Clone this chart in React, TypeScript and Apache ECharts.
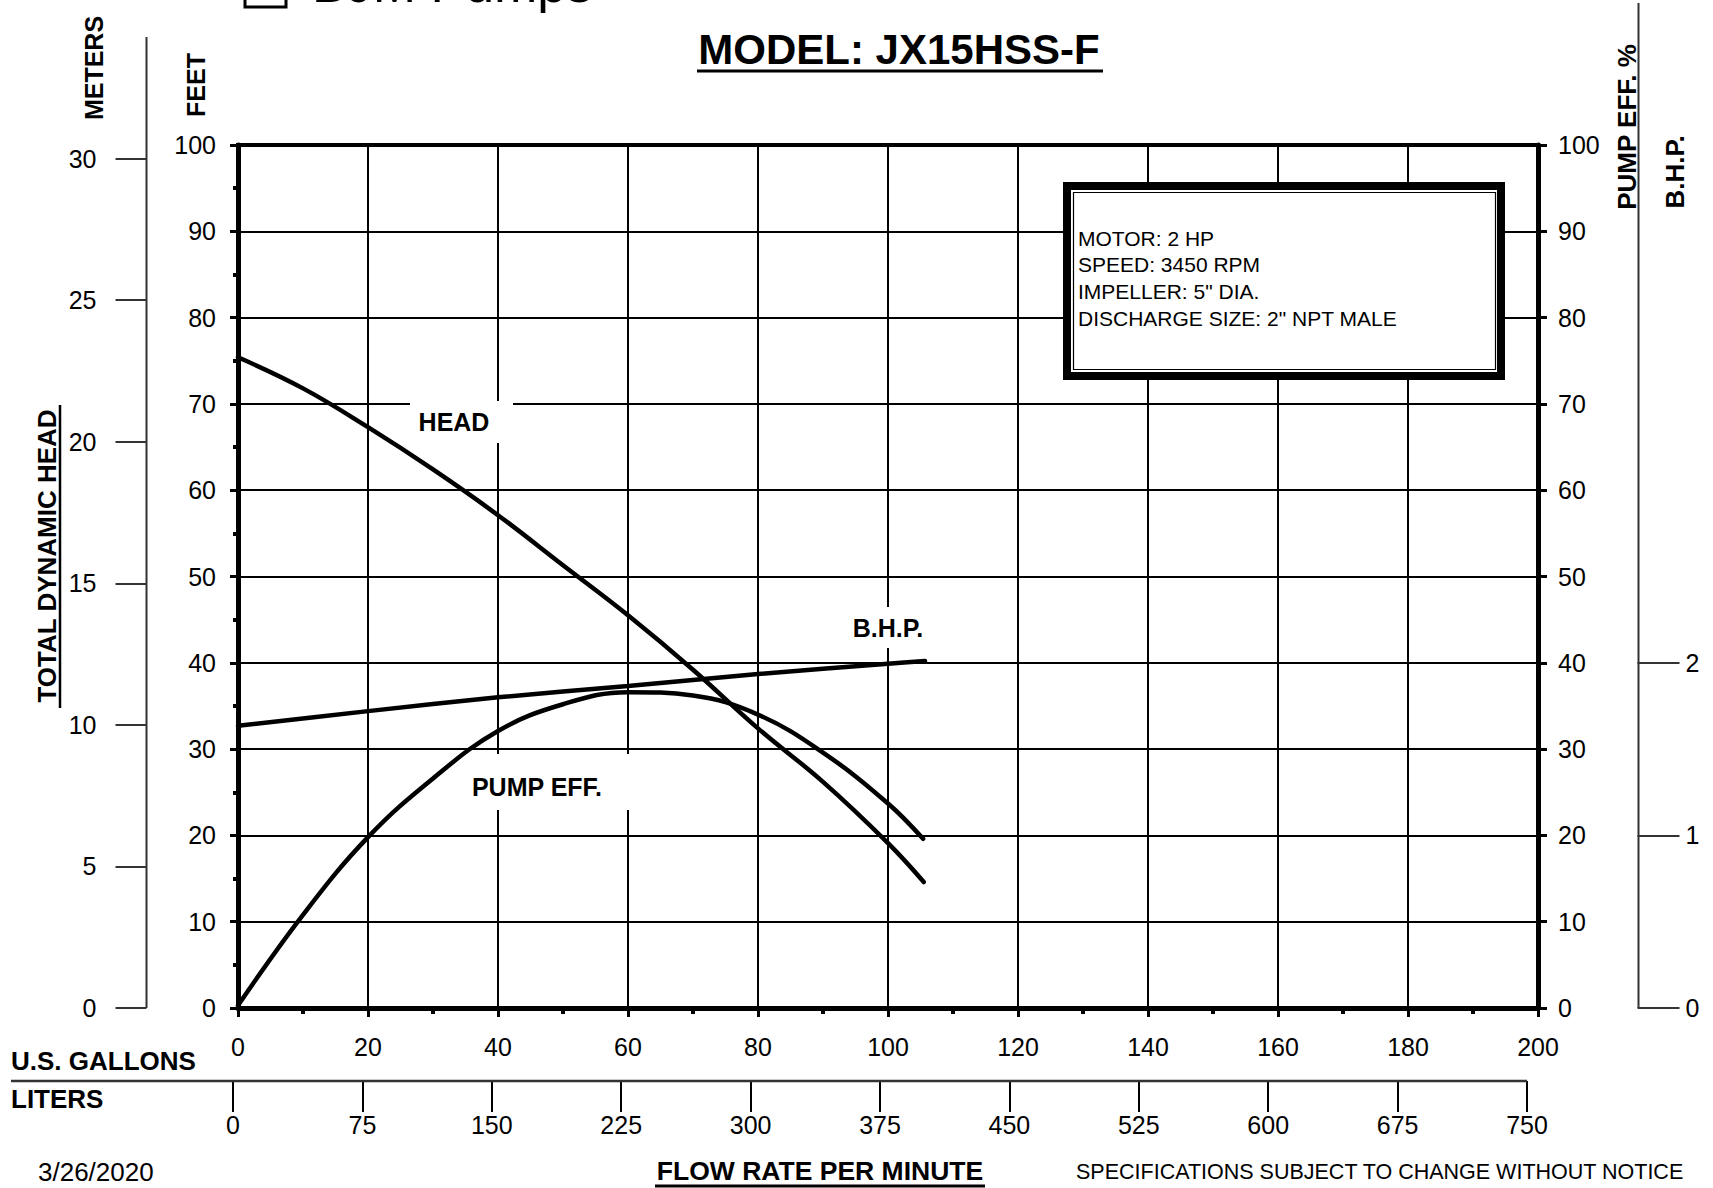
import React, { useEffect, useRef } from 'react';
import * as echarts from 'echarts';

// ---- data ----
const headFlow = [0, 10, 20, 30, 40, 50, 60, 70, 80, 90, 100, 105.5];
const headFeet = [75.4, 71.8, 67.3, 62.4, 57.1, 51.3, 45.5, 39.2, 32.4, 26.2, 19.1, 14.6];

const effFlow = [0, 10, 20, 30, 40, 50, 60, 70, 80, 90, 100, 105.4];
const effPct = [0.3, 10.8, 19.8, 26.6, 32.1, 35.2, 36.6, 36.2, 34.0, 29.6, 23.7, 19.6];

const bhpFlow = [0, 20, 40, 60, 80, 100, 105.7];
const bhpValue = [1.635, 1.72, 1.8, 1.865, 1.935, 1.995, 2.01];

const infoLines = ['MOTOR: 2 HP', 'SPEED: 3450 RPM', 'IMPELLER: 5" DIA.', 'DISCHARGE SIZE: 2" NPT MALE'];

const FONT = '"Liberation Sans", Arial, Helvetica, sans-serif';
const FT_PER_M = 3.28084;
const FT_PER_BHP = 20; // B.H.P. scale: 1 BHP spans 20 ft on the chart

// plot geometry (pixels)
const PLOT_LEFT = 238;
const PLOT_TOP = 145;
const PLOT_W = 1300;
const PLOT_H = 863;
const PLOT_BOTTOM = PLOT_TOP + PLOT_H;
const METER_MAX = 30;
const BHP_SCALE_MAX = 2;
const meterTop = PLOT_TOP + PLOT_H * (1 - (METER_MAX * FT_PER_M) / 100);
const bhpTop = PLOT_TOP + PLOT_H * (1 - (BHP_SCALE_MAX * FT_PER_BHP) / 100);

function txt(text: string, x: number, y: number, size: number, opts: any = {}) {
  return {
    type: 'text',
    x,
    y,
    rotation: opts.rotation || 0,
    z: opts.z ?? 5,
    silent: true,
    style: {
      text,
      fill: '#000',
      fontSize: size,
      fontWeight: opts.bold ? 'bold' : 'normal',
      fontFamily: FONT,
      align: opts.align || 'center',
      verticalAlign: opts.valign || 'middle',
      textAlign: opts.align || 'center',
      textVerticalAlign: opts.valign || 'middle',
    },
  };
}

function ln(x1: number, y1: number, x2: number, y2: number, w: number, color = '#000', z = 5) {
  return { type: 'line', z, silent: true, shape: { x1, y1, x2, y2 }, style: { stroke: color, lineWidth: w } };
}

function rc(x: number, y: number, width: number, height: number, style: any, z = 1) {
  return { type: 'rect', z, silent: true, shape: { x, y, width, height }, style };
}

export default function App() {
  const ref = useRef<HTMLDivElement>(null);

  useEffect(() => {
    if (!ref.current) return;
    const chart = echarts.init(ref.current, undefined, { renderer: 'svg' });

    const axisLabelBase = { color: '#000', fontSize: 25, fontFamily: FONT };

    const option: any = {
      animation: false,
      textStyle: { fontFamily: FONT, color: '#000' },
      grid: [
        { left: PLOT_LEFT, top: PLOT_TOP, width: PLOT_W, height: PLOT_H, show: true, borderColor: '#000', borderWidth: 4, backgroundColor: 'transparent' },
        { left: 233, top: 1080, width: 1294, height: 1, show: false },
        { left: 146.5, top: meterTop, width: 1, height: PLOT_BOTTOM - meterTop, show: false },
        { left: 1637.5, top: bhpTop, width: 1, height: PLOT_BOTTOM - bhpTop, show: false },
      ],
      xAxis: [
        {
          type: 'value', gridIndex: 0, min: 0, max: 200, interval: 20, position: 'bottom',
          axisLine: { show: true, onZero: false, lineStyle: { color: '#000', width: 5 } },
          axisTick: { show: true, length: 9, lineStyle: { color: '#000', width: 3 } },
          minorTick: { show: true, splitNumber: 2, length: 6, lineStyle: { color: '#000', width: 4 } },
          splitLine: { show: true, lineStyle: { color: '#000', width: 2 } },
          minorSplitLine: { show: false },
          axisLabel: { ...axisLabelBase, margin: 26 },
        },
        {
          type: 'value', gridIndex: 1, min: 0, max: 750, interval: 75, position: 'bottom',
          axisLine: { show: false },
          axisTick: { show: true, length: 31, lineStyle: { color: '#000', width: 2 } },
          splitLine: { show: false },
          axisLabel: { ...axisLabelBase, margin: 31 },
        },
        { type: 'value', gridIndex: 2, min: 0, max: 1, show: false },
        { type: 'value', gridIndex: 3, min: 0, max: 1, show: false },
      ],
      yAxis: [
        {
          type: 'value', gridIndex: 0, position: 'left', min: 0, max: 100, interval: 10,
          axisLine: { show: true, onZero: false, lineStyle: { color: '#000', width: 5 } },
          axisTick: { show: true, length: 8, lineStyle: { color: '#000', width: 3 } },
          minorTick: { show: true, splitNumber: 2, length: 5, lineStyle: { color: '#000', width: 4 } },
          splitLine: { show: true, lineStyle: { color: '#000', width: 2 } },
          axisLabel: { ...axisLabelBase, margin: 22 },
        },
        {
          // meters scale (own grid, aligned with the feet scale)
          type: 'value', gridIndex: 2, position: 'left', min: 0, max: METER_MAX, interval: 5,
          axisLine: { show: false },
          axisTick: { show: true, length: 31, lineStyle: { color: '#333', width: 2 } },
          splitLine: { show: false },
          axisLabel: { ...axisLabelBase, margin: 50 },
        },
        {
          type: 'value', gridIndex: 0, position: 'right', offset: 0, min: 0, max: 100, interval: 10,
          axisLine: { show: true, onZero: false, lineStyle: { color: '#000', width: 5 } },
          axisTick: { show: true, length: 9, lineStyle: { color: '#000', width: 3 } },
          splitLine: { show: false },
          axisLabel: { ...axisLabelBase, margin: 20 },
        },
        {
          // B.H.P. axis used by the series (same scale as the visible B.H.P. scale)
          type: 'value', gridIndex: 0, position: 'right', offset: 100, min: 0, max: 100 / FT_PER_BHP,
          show: false,
        },
        {
          // visible B.H.P. scale 0..2
          type: 'value', gridIndex: 3, position: 'right', min: 0, max: BHP_SCALE_MAX, interval: 1,
          axisLine: { show: false },
          axisTick: { show: true, length: 42, lineStyle: { color: '#333', width: 2 } },
          splitLine: { show: false },
          axisLabel: { ...axisLabelBase, margin: 47 },
        },
        { type: 'value', gridIndex: 1, min: 0, max: 1, show: false },
      ],
      series: [
        {
          type: 'line', name: 'HEAD', xAxisIndex: 0, yAxisIndex: 0,
          data: headFlow.map((f, i) => [f, headFeet[i]]),
          showSymbol: false, smooth: 0.4, z: 3,
          lineStyle: { color: '#000', width: 4.5, cap: 'round' },
        },
        {
          type: 'line', name: 'PUMP EFF.', xAxisIndex: 0, yAxisIndex: 2,
          data: effFlow.map((f, i) => [f, effPct[i]]),
          showSymbol: false, smooth: 0.4, z: 3,
          lineStyle: { color: '#000', width: 4.5, cap: 'round' },
        },
        {
          type: 'line', name: 'B.H.P.', xAxisIndex: 0, yAxisIndex: 3,
          data: bhpFlow.map((f, i) => [f, bhpValue[i]]),
          showSymbol: false, smooth: 0.3, z: 3,
          lineStyle: { color: '#000', width: 4.5, cap: 'round' },
        },
      ],
      graphic: {
        elements: [
          // partially visible logo at the top
          rc(245, -40, 41, 47, { fill: 'none', stroke: '#000', lineWidth: 3 }, 5),
          txt('BJM Pumps', 312, -16, 52, { align: 'left' }),
          // title
          txt('MODEL: JX15HSS-F', 899, 49, 42, { bold: true }),
          ln(697, 71, 1103, 71, 3),
          // left axis titles
          txt('METERS', 94, 68, 25, { bold: true, rotation: Math.PI / 2 }),
          txt('FEET', 196, 85, 25, { bold: true, rotation: Math.PI / 2 }),
          ln(146.5, 37, 146.5, PLOT_BOTTOM, 2, '#333'),
          txt('TOTAL DYNAMIC HEAD', 47, 556, 26, { bold: true, rotation: Math.PI / 2 }),
          ln(60, 405, 60, 708, 2.5),
          // right axis titles
          txt('PUMP EFF. %', 1627, 127, 26, { bold: true, rotation: Math.PI / 2 }),
          txt('B.H.P.', 1675, 172, 26, { bold: true, rotation: Math.PI / 2 }),
          ln(1638.5, 3, 1638.5, PLOT_BOTTOM, 2, '#333'),
          // info box
          rc(1067, 186, 434, 190, { fill: '#fff', stroke: '#000', lineWidth: 8 }, 4),
          rc(1073.5, 192.5, 422, 177, { fill: 'none', stroke: '#000', lineWidth: 1.2 }, 4),
          ...infoLines.map((t, i) => txt(t, 1078, 238 + i * 26.7, 21, { align: 'left' })),
          // curve labels with white gaps
          rc(410, 401, 103, 42, { fill: '#fff' }, 1),
          txt('HEAD', 454, 422, 25, { bold: true }),
          rc(846, 607, 84, 41, { fill: '#fff' }, 1),
          txt('B.H.P.', 888, 628, 25, { bold: true }),
          rc(470, 754, 165, 56, { fill: '#fff' }, 1),
          txt('PUMP EFF.', 537, 787, 25, { bold: true }),
          // bottom scales
          txt('U.S. GALLONS', 11, 1061, 26, { bold: true, align: 'left' }),
          ln(11, 1081, 1527, 1081, 2.5, '#333'),
          txt('LITERS', 11, 1099, 26, { bold: true, align: 'left' }),
          // footer
          txt('3/26/2020', 38, 1172, 26, { align: 'left' }),
          txt('FLOW RATE PER MINUTE', 820, 1171, 26.5, { bold: true }),
          ln(655, 1186, 985, 1186, 3),
          txt('SPECIFICATIONS SUBJECT TO CHANGE WITHOUT NOTICE', 1076, 1172, 21.5, { align: 'left' }),
        ],
      },
    };

    chart.setOption(option);
    return () => chart.dispose();
  }, []);

  return (
    <div
      ref={ref}
      style={{ position: 'absolute', left: 0, top: 0, width: 1713, height: 1188, background: '#fff' }}
    />
  );
}
